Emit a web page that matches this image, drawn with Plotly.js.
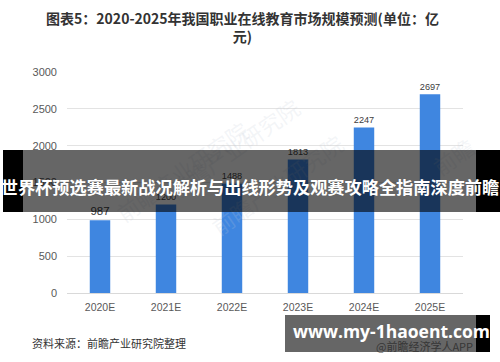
<!DOCTYPE html>
<html>
<head>
<meta charset="utf-8">
<script src="https://cdn.plot.ly/plotly-3.0.1.min.js"></script>
<style>
  html, body { margin: 0; padding: 0; background: #fff; }
  #wrap { position: relative; width: 500px; height: 362px; overflow: hidden; }
  #chart { position: absolute; left: 0; top: 0; width: 500px; height: 362px; }
  .band { position: absolute; left: 3px; top: 150px; width: 497px; height: 62px; background: rgba(0,0,0,0.6); }
  .band .blk { position: absolute; top: 0; height: 100%; background: #000; }
  .band .txt { position: absolute; left: -3px; width: 500px; top: 0; height: 100%; display: flex; align-items: center; justify-content: center;
    color: #fff; font-family: "Noto Sans CJK SC", sans-serif; font-weight: bold; font-size: 17.2px; white-space: nowrap; padding-top: 10px; box-sizing: border-box; }
  .btn { position: absolute; left: 285px; top: 315px; width: 205px; height: 37px; background: rgba(0,0,0,0.6); }
  .btn .blk { position: absolute; right: 0; top: 0; width: 14px; height: 100%; background: #000; }
  .btn .txt { position: absolute; left: 4px; width: 205px; top: 0; height: 100%; display: flex; align-items: center; justify-content: center;
    color: #fff; font-family: "Open Sans", sans-serif; font-weight: bold; font-size: 17.5px; white-space: nowrap; padding-bottom: 6px; box-sizing: border-box; }
</style>
</head>
<body>
<div id="wrap">
  <div id="chart"></div>
  <div class="band">
    <div class="blk" style="left:0;width:20px;"></div>
    <div class="blk" style="left:473px;width:24px;"></div>
    <div class="txt" id="bandText"></div>
  </div>
  <div class="btn">
    <div class="blk"></div>
    <div class="txt" id="btnText"></div>
  </div>
</div>
<script>
const categories = ["2020E", "2021E", "2022E", "2023E", "2024E", "2025E"];
const marketSize = [987, 1200, 1488, 1813, 2247, 2697];
const yTicks = [0, 500, 1000, 1500, 2000, 2500, 3000];
const titleText = "图表5：2020-2025年我国职业在线教育市场规模预测(单位：亿<br>元)";
const sourceText = "资料来源：前瞻产业研究院整理";
const watermarkText = "@前瞻经济学人APP";
const bandText = "世界杯预选赛最新战况解析与出线形势及观赛攻略全指南深度前瞻";
const linkText = "www.my-1haoent.com";

document.getElementById("bandText").textContent = bandText;
document.getElementById("btnText").textContent = linkText;

const trace = {
  type: "bar",
  x: categories,
  y: marketSize,
  text: marketSize.map(String),
  textposition: "outside",
  cliponaxis: false,
  textfont: { family: "Liberation Sans, Arial, sans-serif", size: 11.5, color: "#404040" },
  marker: { color: "#3F86E0" },
  width: 0.31,
  hoverinfo: "skip"
};

const wmColor = "rgba(195,202,215,0.2)";
const wmFont = { family: "Noto Sans CJK SC, sans-serif", size: 22, color: wmColor };

const layout = {
  width: 500,
  height: 362,
  margin: { l: 67, r: 37, t: 72, b: 69 },
  paper_bgcolor: "#ffffff",
  plot_bgcolor: "#ffffff",
  showlegend: false,
  title: {
    text: titleText,
    font: { family: "Noto Sans CJK SC, sans-serif", size: 14, color: "#333333", weight: "bold" },
    x: 0.485, xanchor: "center",
    yref: "container", y: 0.935, yanchor: "middle"
  },
  xaxis: {
    type: "category",
    tickfont: { family: "Liberation Sans, Arial, sans-serif", size: 10.5, color: "#595959" },
    showline: false,
    ticks: "",
    showgrid: false,
    ticklabelstandoff: 6
  },
  yaxis: {
    range: [0, 3000],
    tickvals: yTicks,
    ticktext: yTicks.map(String),
    tickfont: { family: "Liberation Sans, Arial, sans-serif", size: 11, color: "#595959" },
    gridcolor: "#e3e3e3",
    gridwidth: 1,
    zeroline: true,
    zerolinecolor: "#d9d9d9",
    zerolinewidth: 1,
    showline: false,
    ticks: "",
    ticklabelstandoff: 9
  },
  annotations: [
    { text: sourceText, xref: "paper", yref: "paper", x: -0.093, y: -0.225, xanchor: "left", yanchor: "middle",
      showarrow: false, font: { family: "Noto Sans CJK SC, sans-serif", size: 11, color: "#333333" } },
    { text: watermarkText, xref: "paper", yref: "paper", x: 1.03, y: -0.24, xanchor: "right", yanchor: "middle",
      showarrow: false, font: { family: "Noto Sans CJK SC, sans-serif", size: 11, color: "#8a8a8a" } },
    { text: "前瞻产业研究院", xref: "paper", yref: "paper", x: 0.42, y: 0.93, textangle: -35,
      showarrow: false, font: wmFont },
    { text: "前瞻产业研究院", xref: "paper", yref: "paper", x: 0.72, y: 0.22, textangle: -35,
      showarrow: false, font: wmFont },
    { text: "前瞻产业研究院", xref: "paper", yref: "paper", x: 0.1, y: 0.28, textangle: -35,
      showarrow: false, font: wmFont },
    { text: "前瞻", xref: "paper", yref: "paper", x: 1.05, y: 0.62, textangle: -35,
      showarrow: false, font: wmFont }
  ]
};

Plotly.newPlot("chart", [trace], layout, { displayModeBar: false, staticPlot: true });
</script>
</body>
</html>
